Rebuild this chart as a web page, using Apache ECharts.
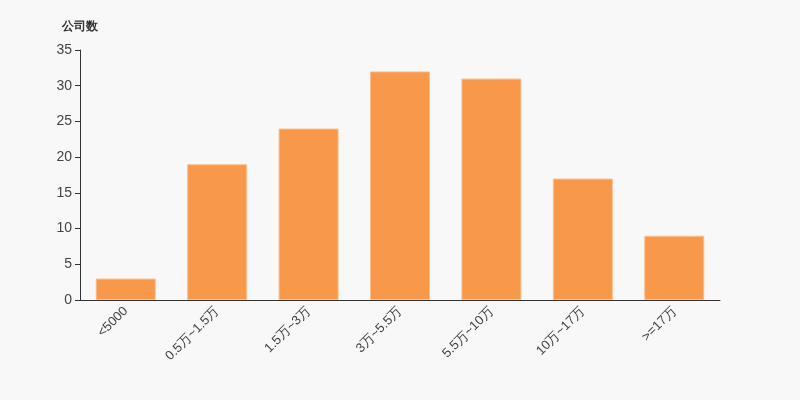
<!DOCTYPE html>
<html><head><meta charset="utf-8">
<script src="https://cdn.jsdelivr.net/npm/echarts@6/dist/echarts.min.js"></script>
<style>html,body{margin:0;padding:0;background:#f8f8f8}#c{width:800px;height:400px}</style>
</head><body><div id="c"></div>
<script>
const categories = ['<5000','0.5万~1.5万','1.5万~3万','3万~5.5万','5.5万~10万','10万~17万','>=17万'];
const companyCounts = [3, 19, 24, 32, 31, 17, 9];
const yTicks = {min: 0, max: 35, interval: 5};

const chart = echarts.init(document.getElementById('c'));
chart.setOption({
  backgroundColor: '#f8f8f8',
  animation: false,
  grid: {left: 80, right: 80, top: 50, bottom: 100},
  xAxis: {
    type: 'category',
    data: categories,
    axisLine: {lineStyle: {color: '#333'}},
    axisTick: {alignWithLabel: false, lineStyle: {color: '#333'}},
    axisLabel: {rotate: 45, color: '#444', fontSize: 13, interval: 0, margin: 9}
  },
  yAxis: {
    type: 'value',
    min: yTicks.min, max: yTicks.max, interval: yTicks.interval,
    name: '公司数',
    nameTextStyle: {color: '#333', fontWeight: 'bold', fontSize: 12, align: 'center'},
    nameGap: 17,
    axisLine: {show: true, lineStyle: {color: '#333'}},
    axisTick: {show: true, lineStyle: {color: '#333'}},
    axisLabel: {color: '#444', fontSize: 14},
    splitLine: {show: false}
  },
  series: [{
    type: 'bar',
    data: companyCounts,
    barWidth: 60,
    itemStyle: {color: '#f7984a', borderColor: '#fbbf8f', borderWidth: 1}
  }]
});
</script></body></html>
